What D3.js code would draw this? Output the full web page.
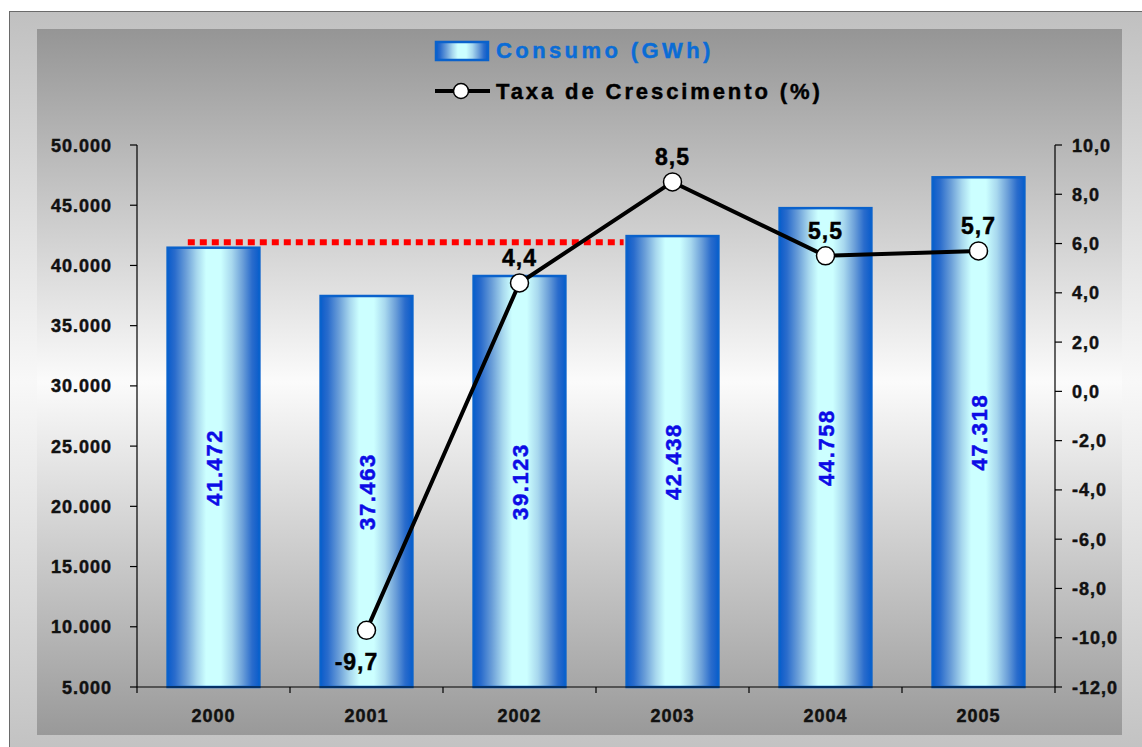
<!DOCTYPE html>
<html>
<head>
<meta charset="utf-8">
<script src="https://cdn.jsdelivr.net/npm/d3@7"></script>
<style>
  html, body { margin: 0; padding: 0; background: #ffffff; }
  svg { display: block; }
  text { font-family: "Liberation Sans", Arial, sans-serif; font-weight: bold; stroke-width: 0.45px; }
</style>
</head>
<body>
<svg id="chart" width="1142" height="747"></svg>
<script>
// Annual electricity consumption and growth rate
const years = ["2000", "2001", "2002", "2003", "2004", "2005"];
const consumo = [41472, 37463, 39123, 42438, 44758, 47318];          // GWh
const taxa = [null, -9.7, 4.4, 8.5, 5.5, 5.7];                       // % growth
const taxaLabelPos = [null, "below", "above", "above", "above", "above"];
const leftTicks = [5000, 10000, 15000, 20000, 25000, 30000, 35000, 40000, 45000, 50000];
const rightTicks = [-12, -10, -8, -6, -4, -2, 0, 2, 4, 6, 8, 10];
const seriesNames = ["Consumo (GWh)", "Taxa de Crescimento (%)"];

const fmtThousands = d3.formatLocale({ decimal: ",", thousands: ".", grouping: [3], currency: ["", ""] }).format(",d");
const fmtPct = d => d.toFixed(1).replace(".", ",");

const svg = d3.select("#chart");
const defs = svg.append("defs");

// Backgrounds: outer frame and inner plot area, both vertical grey gradients
const outerGrad = defs.append("linearGradient").attr("id", "outerGrad")
  .attr("x1", 0).attr("y1", 0).attr("x2", 0).attr("y2", 1);
outerGrad.append("stop").attr("offset", 0).attr("stop-color", "#c0c0c0");
outerGrad.append("stop").attr("offset", 0.5).attr("stop-color", "#f8f8f8");
outerGrad.append("stop").attr("offset", 1).attr("stop-color", "#c2c2c2");

const innerGrad = defs.append("linearGradient").attr("id", "innerGrad")
  .attr("x1", 0).attr("y1", 0).attr("x2", 0).attr("y2", 1);
innerGrad.append("stop").attr("offset", 0).attr("stop-color", "#959595");
innerGrad.append("stop").attr("offset", 0.5).attr("stop-color", "#fbfbfb");
innerGrad.append("stop").attr("offset", 1).attr("stop-color", "#999999");

// Cylinder-like horizontal gradient for the bars
const barGrad = defs.append("linearGradient").attr("id", "barGrad")
  .attr("x1", 0).attr("y1", 0).attr("x2", 1).attr("y2", 0);
[[0, "#0a5ccb"], [0.08, "#2a6ccc"], [0.2, "#6a9ed8"], [0.32, "#a8d8ee"], [0.42, "#ccffff"],
 [0.58, "#ccffff"], [0.7, "#a8d8ee"], [0.82, "#6a9ed8"], [0.92, "#2a6ccc"], [1, "#0a5ccb"]]
  .forEach(([o, c]) => barGrad.append("stop").attr("offset", o).attr("stop-color", c));

svg.append("rect").attr("x", 9.5).attr("y", 11.5).attr("width", 1140).attr("height", 740)
  .attr("fill", "url(#outerGrad)").attr("stroke", "#6a6a6a").attr("stroke-width", 1);
svg.append("rect").attr("x", 37).attr("y", 29).attr("width", 1085).attr("height", 706)
  .attr("fill", "url(#innerGrad)");

// Plot geometry
const plot = { left: 137, right: 1055, top: 145, bottom: 687 };

const x = d3.scaleBand().domain(years).range([plot.left, plot.right])
  .paddingInner(0.4).paddingOuter(0.2);
const yL = d3.scaleLinear().domain([5000, 50000]).range([plot.bottom, plot.top]);
const yR = d3.scaleLinear().domain([-12, 10]).range([plot.bottom, plot.top]);
const step = x.step();

// Bars
const bars = svg.append("g");
bars.selectAll("rect").data(years).join("rect")
  .attr("x", d => x(d))
  .attr("y", (d, i) => yL(consumo[i]))
  .attr("width", x.bandwidth())
  .attr("height", (d, i) => yL(5000) - yL(consumo[i]))
  .attr("fill", "url(#barGrad)")
  .attr("stroke", "#0a62cc").attr("stroke-width", 2.5);

// Value labels inside the bars
bars.selectAll("text").data(years).join("text")
  .attr("transform", (d, i) => {
    const cx = x(d) + x.bandwidth() / 2;
    const cy = (yL(consumo[i]) + yL(5000)) / 2;
    return `translate(${cx + 8},${cy}) rotate(-90)`;
  })
  .attr("text-anchor", "middle")
  .attr("font-size", 22).style("letter-spacing", "1.6px")
  .attr("fill", "#0c0ce6").attr("stroke", "#0c0ce6")
  .text((d, i) => fmtThousands(consumo[i]));

// Red dotted reference at the 2000 consumption level
svg.append("line")
  .attr("x1", x(years[0]) + 0.22 * x.bandwidth())
  .attr("x2", x(years[3]) - 3)
  .attr("y1", yL(consumo[0]) - 5.5).attr("y2", yL(consumo[0]) - 5.5)
  .attr("stroke", "#ff0000").attr("stroke-width", 6)
  .attr("stroke-dasharray", "7 5");

// Axes
const axisG = svg.append("g").attr("stroke", "#000").attr("stroke-width", 1.2);
axisG.append("line").attr("x1", plot.left).attr("x2", plot.left).attr("y1", plot.top).attr("y2", plot.bottom);
axisG.append("line").attr("x1", plot.right).attr("x2", plot.right).attr("y1", plot.top).attr("y2", plot.bottom);
axisG.append("line").attr("x1", plot.left).attr("x2", plot.right).attr("y1", plot.bottom).attr("y2", plot.bottom);

axisG.selectAll(".tl").data(leftTicks).join("line")
  .attr("x1", plot.left - 7).attr("x2", plot.left).attr("y1", d => yL(d)).attr("y2", d => yL(d));
axisG.selectAll(".tr").data(rightTicks).join("line")
  .attr("x1", plot.right).attr("x2", plot.right + 7).attr("y1", d => yR(d)).attr("y2", d => yR(d));
axisG.selectAll(".tb").data(d3.range(years.length + 1)).join("line")
  .attr("x1", i => plot.left + i * step).attr("x2", i => plot.left + i * step)
  .attr("y1", plot.bottom).attr("y2", plot.bottom + 6);

svg.append("g").selectAll("text").data(leftTicks).join("text")
  .attr("x", 112).attr("y", d => yL(d) + 6.5)
  .attr("text-anchor", "end").attr("font-size", 18).style("letter-spacing", "1px")
  .attr("fill", "#111").attr("stroke", "#111").text(d => fmtThousands(d));

svg.append("g").selectAll("text").data(rightTicks).join("text")
  .attr("x", 1072).attr("y", d => yR(d) + 6.5)
  .attr("text-anchor", "start").attr("font-size", 18).style("letter-spacing", "1px")
  .attr("fill", "#111").attr("stroke", "#111").text(d => fmtPct(d));

svg.append("g").selectAll("text").data(years).join("text")
  .attr("x", d => x(d) + x.bandwidth() / 2).attr("y", 722)
  .attr("text-anchor", "middle").attr("font-size", 18).style("letter-spacing", "1px")
  .attr("fill", "#111").attr("stroke", "#111").text(d => d);

// Growth rate line
const pts = years.map((d, i) => ({ year: d, v: taxa[i], pos: taxaLabelPos[i] })).filter(p => p.v !== null);
const line = d3.line().x(p => x(p.year) + x.bandwidth() / 2).y(p => yR(p.v));
svg.append("path").datum(pts).attr("d", line)
  .attr("fill", "none").attr("stroke", "#000").attr("stroke-width", 4).attr("stroke-linejoin", "round");
svg.append("g").selectAll("circle").data(pts).join("circle")
  .attr("cx", p => x(p.year) + x.bandwidth() / 2).attr("cy", p => yR(p.v)).attr("r", 9)
  .attr("fill", "#fff").attr("stroke", "#000").attr("stroke-width", 1.5);
svg.append("g").selectAll("text").data(pts).join("text")
  .attr("x", p => x(p.year) + x.bandwidth() / 2 + (p.pos === "below" ? -10 : 0))
  .attr("y", p => yR(p.v) + (p.pos === "below" ? 40 : -17))
  .attr("text-anchor", "middle").attr("font-size", 23).style("letter-spacing", "1px")
  .attr("fill", "#000").attr("stroke", "#000").text(p => fmtPct(p.v));

// Legend
const lg = svg.append("g");
lg.append("rect").attr("x", 436).attr("y", 42).attr("width", 52).attr("height", 18)
  .attr("fill", "url(#barGrad)").attr("stroke", "#0a62cc").attr("stroke-width", 2.5);
lg.append("text").attr("x", 496).attr("y", 58).attr("font-size", 22)
  .style("letter-spacing", "3.4px").attr("fill", "#0a6cd6").attr("stroke", "#0a6cd6").text(seriesNames[0]);
lg.append("line").attr("x1", 435).attr("x2", 490).attr("y1", 91).attr("y2", 91)
  .attr("stroke", "#000").attr("stroke-width", 4);
lg.append("circle").attr("cx", 461).attr("cy", 91).attr("r", 7.5)
  .attr("fill", "#fff").attr("stroke", "#000").attr("stroke-width", 1.5);
lg.append("text").attr("x", 496).attr("y", 99).attr("font-size", 22)
  .style("letter-spacing", "2.9px").attr("fill", "#000").attr("stroke", "#000").text(seriesNames[1]);
</script>
</body>
</html>
